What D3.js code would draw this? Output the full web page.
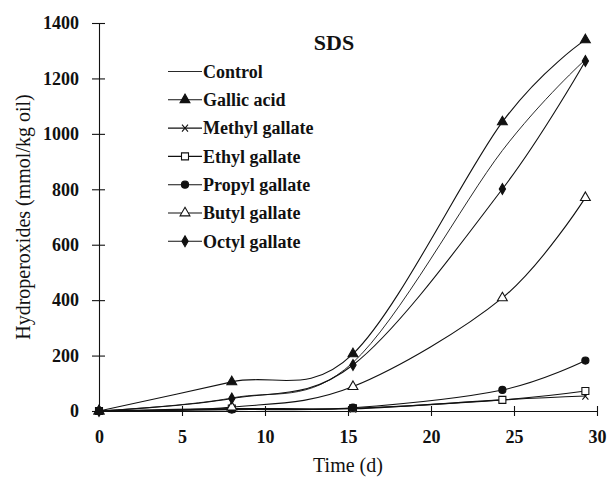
<!DOCTYPE html>
<html>
<head>
<meta charset="utf-8">
<script src="https://cdn.jsdelivr.net/npm/d3@7"></script>
<style>
  body { margin: 0; background: #fff; }
  svg { display: block; font-family: "Liberation Serif", "Times New Roman", serif; }
</style>
</head>
<body>
<svg id="drawing_region"></svg>
<script>
// sampling days and hydroperoxide values (mmol/kg oil)
const days = [0, 8, 15.3, 24.3, 29.3];
const control = [0, 47, 175, 940, 1268];
const gallicAcid = [0, 105, 206, 1043, 1339];
const methylGallate = [0, 6, 8, 40, 54];
const ethylGallate = [0, 9, 10, 40, 72];
const propylGallate = [0, 5, 12, 76, 182];
const butylGallate = [0, 14, 88, 408, 770];
const octylGallate = [0, 45, 166, 801, 1263];

const xTicks = [0, 5, 10, 15, 20, 25, 30];
const yTicks = [0, 200, 400, 600, 800, 1000, 1200, 1400];

const series = [
  {name: 'Control', values: control, marker: null},
  {name: 'Gallic acid', values: gallicAcid, marker: 'triFilled'},
  {name: 'Methyl gallate', values: methylGallate, marker: 'cross'},
  {name: 'Ethyl gallate', values: ethylGallate, marker: 'squareOpen'},
  {name: 'Propyl gallate', values: propylGallate, marker: 'circleFilled'},
  {name: 'Butyl gallate', values: butylGallate, marker: 'triOpen'},
  {name: 'Octyl gallate', values: octylGallate, marker: 'diamondFilled'}
];

const width = 614, height = 479;
const svg = d3.select('#drawing_region')
  .attr('width', width)
  .attr('height', height);

svg.append('rect').attr('width', width).attr('height', height).attr('fill', '#fff');

const xscale = d3.scaleLinear().domain([0, 30]).range([99, 597]);
const yscale = d3.scaleLinear().domain([0, 1400]).range([411, 23]);

// axes
const xaxis = d3.axisBottom(xscale).tickValues(xTicks).tickSizeOuter(0).tickFormat(d3.format('d'));
const yaxis = d3.axisLeft(yscale).tickValues(yTicks).tickSizeOuter(0).tickFormat(d3.format('d'));

const xg = svg.append('g').attr('transform', `translate(0, ${yscale(0)})`).call(xaxis);
const yg = svg.append('g').attr('transform', `translate(${xscale(0)}, 0)`).call(yaxis);

[xg, yg].forEach(g => {
  g.select('.domain').attr('stroke', '#111').attr('stroke-width', 1.1);
  g.selectAll('.tick line').attr('stroke', '#111').attr('stroke-width', 1.1);
  g.selectAll('.tick text')
    .attr('fill', '#111')
    .style('font-family', '"Liberation Serif", serif')
    .style('font-size', '18px')
    .style('font-weight', 'bold');
});
xg.selectAll('.tick line').attr('y1', -5).attr('y2', 5);
xg.selectAll('.tick text').attr('y', 19);
yg.selectAll('.tick line').attr('x1', -7).attr('x2', 6);
yg.selectAll('.tick text').attr('x', -20);

// axis titles
svg.append('text')
  .attr('transform', `translate(30, 217) rotate(-90)`)
  .attr('text-anchor', 'middle')
  .style('font-size', '20px')
  .attr('fill', '#111')
  .text('Hydroperoxides (mmol/kg oil)');

svg.append('text')
  .attr('x', 348).attr('y', 472)
  .attr('text-anchor', 'middle')
  .style('font-size', '20px')
  .attr('fill', '#111')
  .text('Time (d)');

svg.append('text')
  .attr('x', 334).attr('y', 50)
  .attr('text-anchor', 'middle')
  .style('font-size', '22px')
  .style('font-weight', 'bold')
  .attr('fill', '#111')
  .text('SDS');

// markers
function drawMarker(g, type, x, y) {
  if (!type) return;
  const m = g.append('path').attr('transform', `translate(${x}, ${y})`).attr('stroke', '#111').attr('stroke-width', 1.1);
  if (type === 'triFilled') m.attr('d', d3.symbol(d3.symbolTriangle, 42)()).attr('fill', '#111');
  if (type === 'triOpen') m.attr('d', d3.symbol(d3.symbolTriangle, 42)()).attr('fill', '#fff');
  if (type === 'squareOpen') m.attr('d', 'M-3.5,-3.5H3.5V3.5H-3.5Z').attr('fill', '#fff');
  if (type === 'circleFilled') m.attr('d', d3.symbol(d3.symbolCircle, 40)()).attr('fill', '#111');
  if (type === 'diamondFilled') m.attr('d', d3.symbol(d3.symbolDiamond, 34)()).attr('fill', '#111');
  if (type === 'cross') m.attr('d', 'M-3,-3.5L3,3.5M-3,3.5L3,-3.5').attr('fill', 'none');
}

// uniform Catmull-Rom, like spreadsheet "smoothed line"
const line = d3.line()
  .x((d, i) => xscale(days[i]))
  .y(d => yscale(d))
  .curve(d3.curveCatmullRom.alpha(0));

const plot = svg.append('g');
series.forEach(s => {
  plot.append('path')
    .attr('d', line(s.values))
    .attr('fill', 'none')
    .attr('stroke', '#111')
    .attr('stroke-width', s.marker ? 1.1 : 0.9);
});
series.forEach(s => {
  s.values.forEach((v, i) => drawMarker(plot, s.marker, xscale(days[i]), yscale(v)));
});
// overlapping markers at the origin look like a solid block
plot.append('rect').attr('x', xscale(0) - 4).attr('y', yscale(0) - 4).attr('width', 8).attr('height', 8).attr('fill', '#111');

// legend
const legend = svg.append('g');
series.forEach((s, i) => {
  const cy = 71.5 + i * 28.3;
  legend.append('line')
    .attr('x1', 168).attr('x2', 202).attr('y1', cy).attr('y2', cy)
    .attr('stroke', '#111').attr('stroke-width', s.marker ? 1.1 : 0.9);
  drawMarker(legend, s.marker, 185, cy);
  legend.append('text')
    .attr('x', 203).attr('y', cy).attr('dy', '0.35em')
    .style('font-size', '18px')
    .style('font-weight', 'bold')
    .attr('fill', '#111')
    .text(s.name);
});
</script>
</body>
</html>
